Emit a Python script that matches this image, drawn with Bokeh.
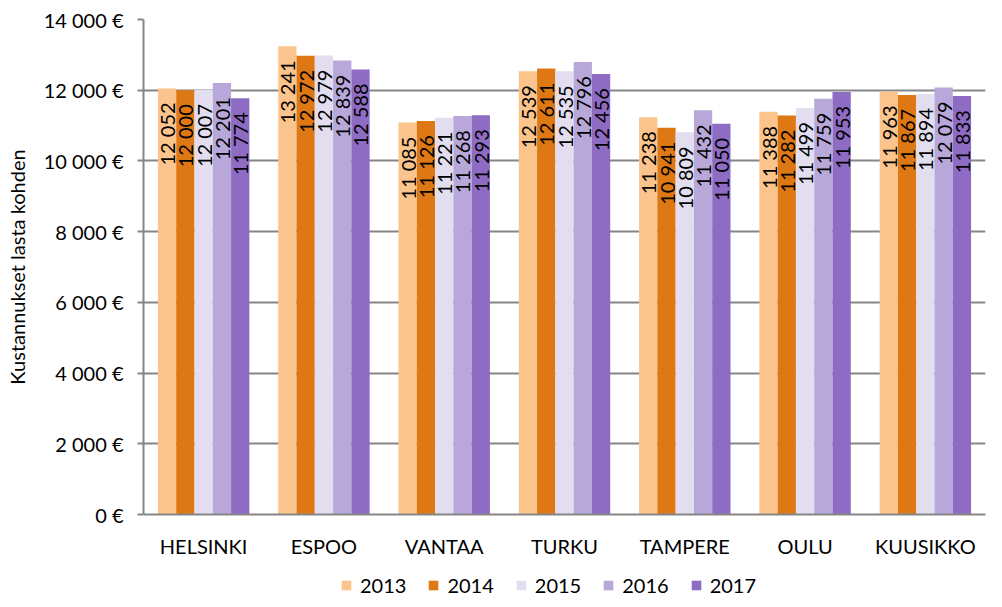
from bokeh.plotting import figure
from bokeh.layouts import column
from bokeh.models import ColumnDataSource, FactorRange, FixedTicker, Legend, LegendItem, Range1d
from bokeh.transform import dodge
from bokeh.core.properties import value
from bokeh.embed import file_html
from bokeh.resources import INLINE
import math

cities = ["HELSINKI", "ESPOO", "VANTAA", "TURKU", "TAMPERE", "OULU", "KUUSIKKO"]
years = ["2013", "2014", "2015", "2016", "2017"]
v2013 = [12052, 13241, 11085, 12539, 11238, 11388, 11963]
v2014 = [12000, 12972, 11126, 12611, 10941, 11282, 11867]
v2015 = [12007, 12979, 11221, 12535, 10809, 11499, 11894]
v2016 = [12201, 12839, 11268, 12796, 11432, 11759, 12079]
v2017 = [11774, 12588, 11293, 12456, 11050, 11953, 11833]
y_ticks = [0, 2000, 4000, 6000, 8000, 10000, 12000, 14000]
y_tick_labels = ["0 €", "2 000 €", "4 000 €", "6 000 €", "8 000 €", "10 000 €", "12 000 €", "14 000 €"]
y_title = "Kustannukset lasta kohden"
colors = ["#FAC48C", "#DE7814", "#E2DEF0", "#B8A8DA", "#8F6CC4"]

series = [v2013, v2014, v2015, v2016, v2017]
FONT = "Lato"
data = {"city": cities}
for y, s in zip(years, series):
    data[y] = s
    data["lbl" + y] = [f"{v:,}".replace(",", "\u00a0") for v in s]
source = ColumnDataSource(data)

p = figure(x_range=FactorRange(*cities, range_padding=0), y_range=Range1d(0, 14000),
           width=1002, height=560, output_backend="svg", toolbar_location=None,
           min_border_left=143, min_border_right=17, min_border_top=19, min_border_bottom=45)
p.outline_line_color = None
p.xgrid.grid_line_color = None
p.ygrid.grid_line_color = "#868686"
p.ygrid.grid_line_width = 2
p.ygrid.level = "underlay"

bw = 0.152
for i, y in enumerate(years):
    off = (i - 2) * bw
    p.vbar(x=dodge("city", off, range=p.x_range), top=y, width=bw, source=source,
           fill_color=colors[i], line_color=None)
    p.text(x=dodge("city", off, range=p.x_range), y=y, text="lbl" + y, source=source,
           angle=math.pi / 2, text_align="right", text_baseline="middle", y_offset=14,
           text_font=value(FONT), text_font_size="20px", text_color="#000000")

yax = p.yaxis[0]
yax.ticker = FixedTicker(ticks=y_ticks)
yax.major_label_overrides = {t: l for t, l in zip(y_ticks, y_tick_labels)}
yax.minor_tick_line_color = None
yax.major_tick_in = 0
yax.major_tick_out = 6
yax.major_tick_line_color = "#868686"
yax.major_tick_line_width = 2
yax.axis_line_color = "#868686"
yax.axis_line_width = 2
yax.major_label_standoff = 14
yax.major_label_text_font = FONT
yax.major_label_text_font_size = "20px"
yax.major_label_text_color = "#000000"
yax.axis_label = y_title
yax.axis_label_text_font = FONT
yax.axis_label_text_font_size = "20px"
yax.axis_label_text_font_style = "normal"
yax.axis_label_text_color = "#000000"
yax.axis_label_standoff = 12

xax = p.xaxis[0]
xax.major_tick_out = 0
xax.major_tick_in = 0
xax.major_tick_line_color = None
xax.minor_tick_line_color = None
xax.axis_line_color = "#868686"
xax.axis_line_width = 2
xax.major_label_standoff = 19
xax.major_label_text_font = FONT
xax.major_label_text_font_size = "20px"
xax.major_label_text_color = "#000000"

# legend strip below the chart (zero-width bars: only their legend swatches show)
lg = figure(width=1002, height=47, output_backend="svg", toolbar_location=None,
            x_range=FactorRange(*cities), y_range=Range1d(-2, -1),
            x_axis_type=None, y_axis_type=None, min_border=0)
lg.outline_line_color = None
lg.grid.visible = False
items = []
for i, y in enumerate(years):
    r = lg.vbar(x="city", top=y, width=0, source=source, fill_color=colors[i], line_color=None)
    items.append(LegendItem(label=y, renderers=[r]))
legend = Legend(items=items, orientation="horizontal", location=(197, 10), padding=0, margin=0,
                spacing=21, label_standoff=8, glyph_width=12, glyph_height=12,
                label_height=20, border_line_color=None, background_fill_alpha=0,
                label_text_font=FONT, label_text_font_size="20px", label_text_color="#000000")
lg.add_layout(legend, "center")

open("out.html", "w").write(file_html(column(p, lg), INLINE))
